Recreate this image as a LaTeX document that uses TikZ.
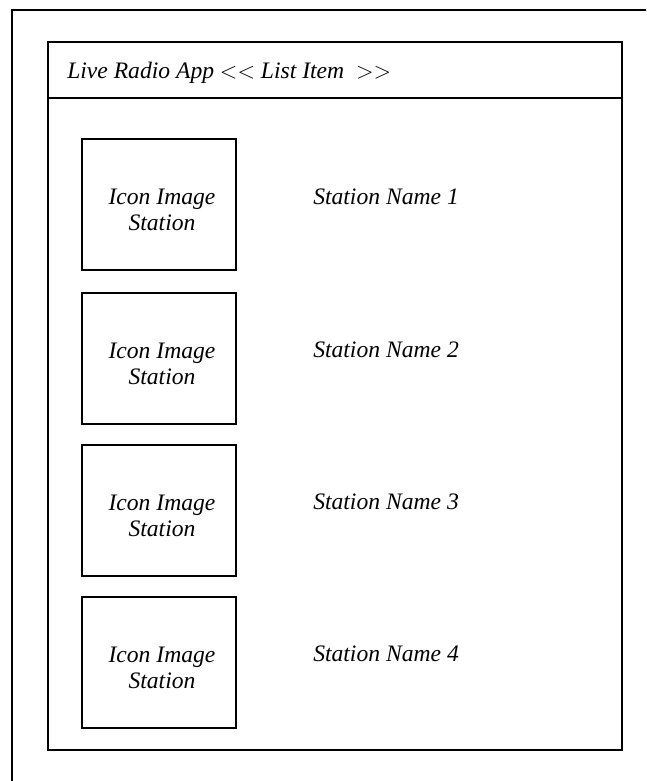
\documentclass[tikz,border=0pt]{standalone}
\usepackage{fontspec}
\setmainfont{Liberation Serif}
\tikzset{
  frameline/.style={draw=black,line width=1.5pt,fill=none},
  iconbox/.style={draw=black,line width=1.5pt,minimum width=115.5pt,minimum height=98.6pt,inner sep=0pt,anchor=north west},
  icontext/.style={inner sep=0pt,align=center,xshift=1.9pt,yshift=-3.9pt,font=\fontsize{17.7}{19}\selectfont\itshape},
  stationlabel/.style={inner sep=0pt,font=\fontsize{17.7}{20}\selectfont\itshape},
}
\begin{document}
\begin{tikzpicture}[x=0.75pt,y=-0.75pt]
\useasboundingbox (0,0) rectangle (646,781);
\clip (0,0) rectangle (646,781);
\fill[white] (0,0) rectangle (646,781);
\draw[frameline] (12,800) -- (12,10) -- (660,10);
\draw[frameline] (48,42) rectangle (622,750);
\draw[frameline] (48,98) -- (622,98);
\node[stationlabel,anchor=west] (title) at (67,73) {Live Radio App $<<$ List Item \ $>>$};
\node[iconbox,xshift=-0.4pt] (i1) at (82,138) {};
\node[iconbox,xshift=-0.4pt] (i2) at (82,292) {};
\node[iconbox,xshift=-0.4pt] (i3) at (82,444) {};
\node[iconbox,xshift=-0.4pt] (i4) at (82,596) {};
\node[icontext] (t1) at (i1.center) {Icon Image\\Station};
\node[icontext] (t2) at (i2.center) {Icon Image\\Station};
\node[icontext] (t3) at (i3.center) {Icon Image\\Station};
\node[icontext] (t4) at (i4.center) {Icon Image\\Station};
\node[stationlabel,anchor=west] (s1) at (313,197) {Station Name 1};
\node[stationlabel,anchor=west] (s2) at (313,350) {Station Name 2};
\node[stationlabel,anchor=west] (s3) at (313,502) {Station Name 3};
\node[stationlabel,anchor=west] (s4) at (313,654) {Station Name 4};
\end{tikzpicture}
\end{document}
